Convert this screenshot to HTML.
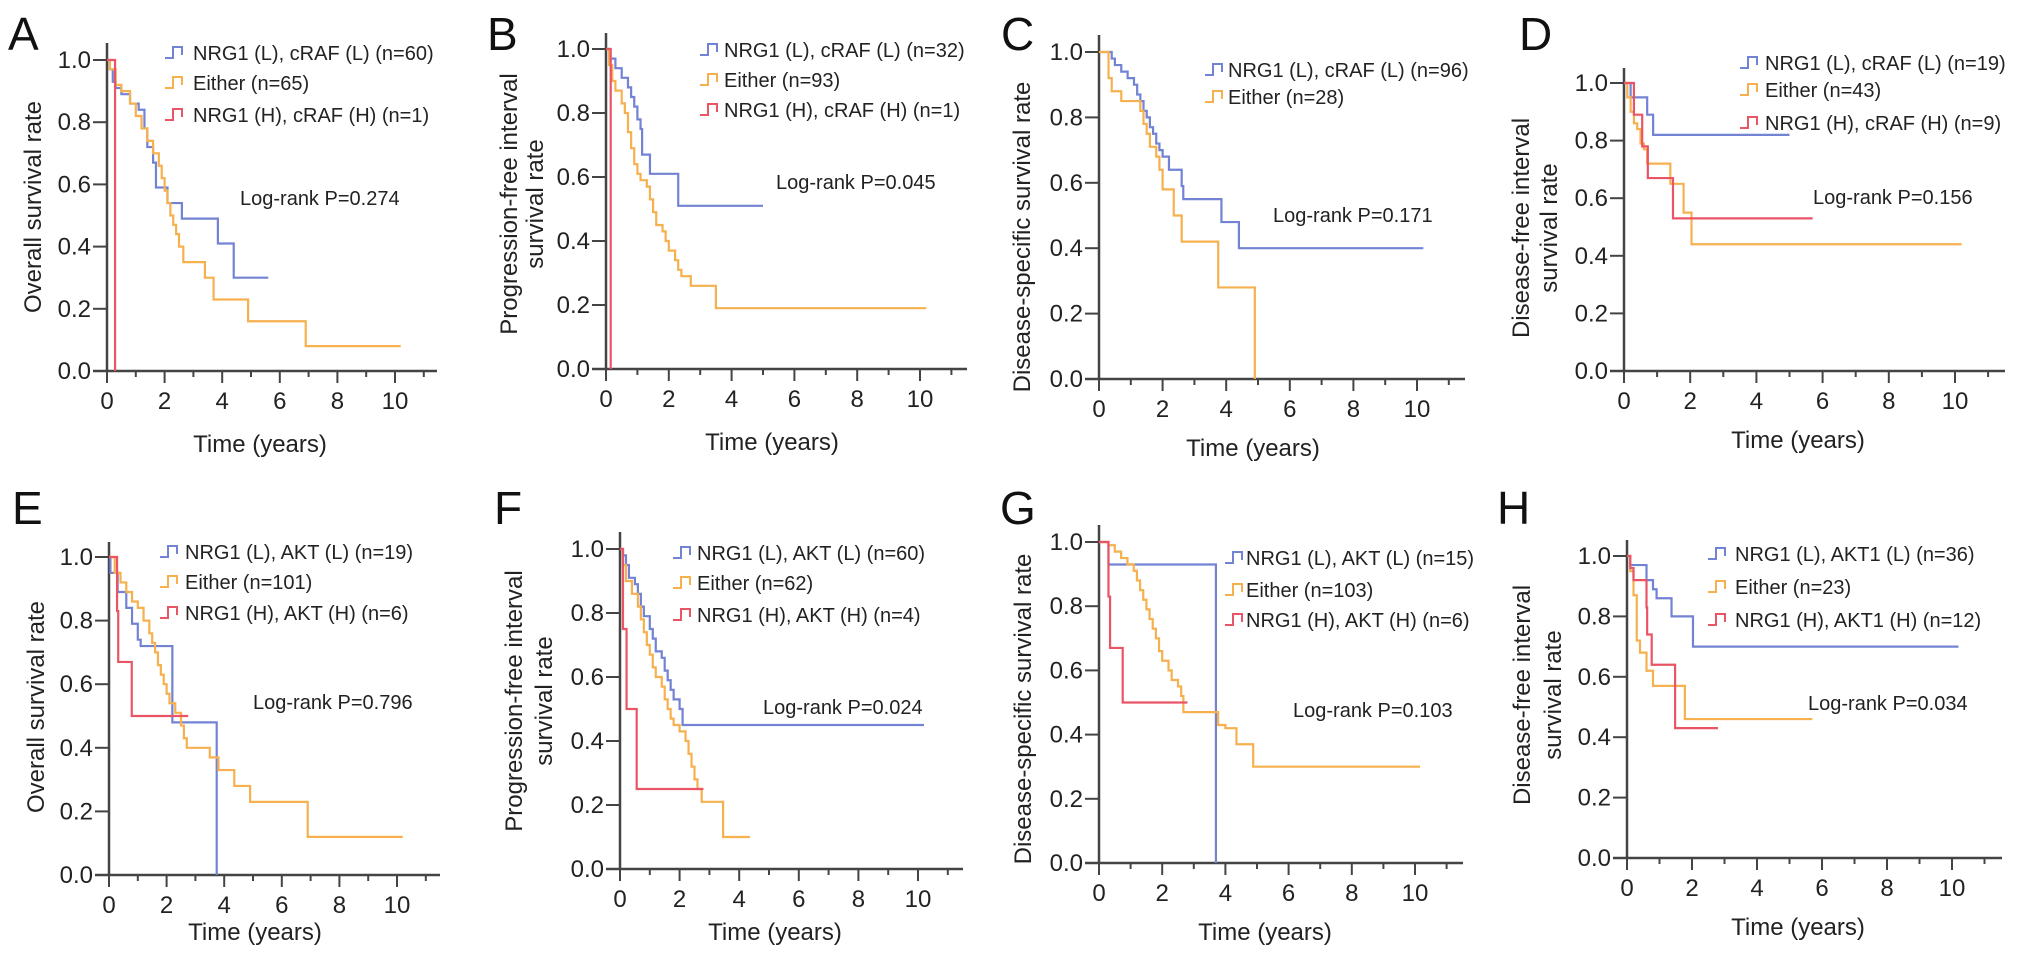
<!DOCTYPE html>
<html><head><meta charset="utf-8"><style>
html,body{margin:0;padding:0;background:#fff;}
svg{display:block;font-family:"Liberation Sans",Arial,sans-serif;}
</style></head><body>
<svg id="fig" width="2032" height="960" viewBox="0 0 2032 960"></svg>
<script>
// ---------- Data (time in years, survival fraction after each drop) ----------
const A_blue_t=[0.1,0.2,0.3,0.5,0.8,1.1,1.3,1.4,1.6,1.7,2.1,2.6,3.85,4.4]; const A_blue_s=[0.97,0.93,0.91,0.89,0.86,0.84,0.78,0.72,0.67,0.59,0.54,0.49,0.41,0.30]; const A_blue_end=5.6;
const A_or_t=[0.1,0.3,0.5,0.8,1.0,1.2,1.4,1.6,1.8,1.9,2.0,2.1,2.2,2.3,2.4,2.5,2.65,3.4,3.7,4.9,6.9]; const A_or_s=[0.97,0.92,0.90,0.86,0.82,0.78,0.74,0.70,0.66,0.62,0.58,0.54,0.50,0.47,0.44,0.40,0.35,0.30,0.23,0.16,0.08]; const A_or_end=10.2;
const A_red_t=[0.28]; const A_red_s=[0]; const A_red_end=0.28;

const B_blue_t=[0.1,0.3,0.5,0.7,0.8,0.9,1.0,1.1,1.15,1.4,2.3]; const B_blue_s=[0.97,0.94,0.91,0.88,0.85,0.82,0.78,0.75,0.67,0.61,0.51]; const B_blue_end=5.0;
const B_or_t=[0.1,0.2,0.3,0.5,0.6,0.7,0.8,0.9,1.0,1.1,1.3,1.4,1.5,1.6,1.8,1.9,2.0,2.2,2.3,2.4,2.7,3.5]; const B_or_s=[0.95,0.90,0.87,0.83,0.80,0.74,0.69,0.64,0.61,0.59,0.57,0.53,0.49,0.45,0.43,0.40,0.37,0.34,0.31,0.29,0.26,0.19]; const B_or_end=10.2;
const B_red_t=[0.15]; const B_red_s=[0]; const B_red_end=0.15;

const C_blue_t=[0.4,0.5,0.7,0.9,1.1,1.2,1.3,1.4,1.5,1.6,1.7,1.8,1.9,2.0,2.2,2.6,2.65,3.85,4.4]; const C_blue_s=[0.98,0.96,0.94,0.92,0.90,0.87,0.85,0.82,0.80,0.77,0.75,0.72,0.70,0.68,0.64,0.59,0.55,0.48,0.40]; const C_blue_end=10.2;
const C_or_t=[0.3,0.4,0.7,1.3,1.4,1.5,1.6,1.8,1.9,2.0,2.35,2.6,3.75,4.9]; const C_or_s=[0.92,0.88,0.85,0.82,0.78,0.75,0.71,0.68,0.64,0.58,0.50,0.42,0.28,0]; const C_or_end=4.9;

const D_blue_t=[0.2,0.7,0.88]; const D_blue_s=[0.95,0.89,0.82]; const D_blue_end=5.0;
const D_or_t=[0.1,0.2,0.3,0.4,0.5,0.6,0.7,1.4,1.8,2.04]; const D_or_s=[0.95,0.90,0.86,0.84,0.79,0.77,0.72,0.65,0.55,0.44]; const D_or_end=10.2;
const D_red_t=[0.3,0.55,0.72,1.48]; const D_red_s=[0.89,0.78,0.67,0.53]; const D_red_end=5.7;

const E_blue_t=[0.05,0.3,0.6,0.8,1.0,1.1,2.2,3.74]; const E_blue_s=[0.95,0.89,0.84,0.79,0.74,0.72,0.48,0]; const E_blue_end=3.74;
const E_or_t=[0.2,0.4,0.6,0.8,1.0,1.2,1.4,1.5,1.6,1.7,1.8,1.9,2.0,2.1,2.3,2.5,2.6,2.7,3.5,3.8,4.35,4.9,6.9]; const E_or_s=[0.95,0.92,0.89,0.86,0.84,0.80,0.76,0.73,0.70,0.66,0.63,0.60,0.57,0.54,0.51,0.47,0.43,0.40,0.37,0.33,0.28,0.23,0.12]; const E_or_end=10.2;
const E_red_t=[0.28,0.32,0.79]; const E_red_s=[0.83,0.67,0.50]; const E_red_end=2.75;

const F_blue_t=[0.1,0.2,0.3,0.5,0.6,0.7,0.8,1.0,1.1,1.2,1.4,1.5,1.6,1.7,1.8,2.0,2.1]; const F_blue_s=[0.98,0.95,0.91,0.89,0.86,0.82,0.79,0.75,0.72,0.68,0.66,0.62,0.59,0.56,0.53,0.50,0.45]; const F_blue_end=10.2;
const F_or_t=[0.1,0.2,0.4,0.6,0.7,0.8,0.9,1.0,1.1,1.2,1.4,1.5,1.6,1.7,1.8,2.0,2.2,2.3,2.4,2.5,2.6,2.74,3.46]; const F_or_s=[0.95,0.90,0.86,0.82,0.78,0.74,0.70,0.67,0.63,0.60,0.57,0.53,0.50,0.47,0.45,0.43,0.40,0.36,0.32,0.28,0.25,0.21,0.10]; const F_or_end=4.36;
const F_red_t=[0.1,0.22,0.56]; const F_red_s=[0.75,0.50,0.25]; const F_red_end=2.8;

const G_blue_t=[0.3,3.7]; const G_blue_s=[0.93,0]; const G_blue_end=3.7;
const G_or_t=[0.3,0.5,0.7,0.9,1.1,1.2,1.3,1.4,1.5,1.6,1.7,1.8,1.9,2.0,2.2,2.3,2.5,2.6,2.67,3.77,4.0,4.35,4.88]; const G_or_s=[0.99,0.97,0.95,0.93,0.91,0.88,0.85,0.82,0.79,0.76,0.73,0.70,0.66,0.63,0.60,0.57,0.55,0.52,0.47,0.43,0.42,0.37,0.30]; const G_or_end=10.16;
const G_red_t=[0.3,0.35,0.75]; const G_red_s=[0.83,0.67,0.50]; const G_red_end=2.8;

const H_blue_t=[0.1,0.6,0.8,0.91,1.37,2.03]; const H_blue_s=[0.97,0.92,0.89,0.86,0.80,0.70]; const H_blue_end=10.2;
const H_or_t=[0.1,0.2,0.3,0.4,0.6,0.8,1.78]; const H_or_s=[0.95,0.87,0.72,0.68,0.62,0.57,0.46]; const H_or_end=5.7;
const H_red_t=[0.1,0.2,0.6,0.62,0.76,1.48]; const H_red_s=[0.96,0.92,0.83,0.74,0.64,0.43]; const H_red_end=2.8;

const yTickLabels=["0.0","0.2","0.4","0.6","0.8","1.0"];
const xTickLabels=["0","2","4","6","8","10"];

const BLUE="#7383d4", ORANGE="#f6b14e", RED="#ea5566";
const NS="http://www.w3.org/2000/svg";
const svg=document.getElementById('fig');
function mk(tag,attrs,parent,text){const e=document.createElementNS(NS,tag);for(const k in attrs)e.setAttribute(k,attrs[k]);if(text!==undefined)e.textContent=text;(parent||svg).appendChild(e);return e;}

const panels=[
 {id:'a',L:'A',lx:8,ly:50,ox:107,y0:371,y1:60,x10:395,xend:437,ytop:43,
  yt:["Overall survival rate"],ytx:[33],yty:207,xty:452,xtx:260,
  leg:{ix:165,tx:193,ys:[53,83,115]},labels:["NRG1 (L), cRAF (L) (n=60)","Either (n=65)","NRG1 (H), cRAF (H) (n=1)"],
  pv:{x:240,y:205,t:"Log-rank P=0.274"},
  series:[[A_blue_t,A_blue_s,A_blue_end,BLUE],[A_or_t,A_or_s,A_or_end,ORANGE],[A_red_t,A_red_s,A_red_end,RED]]},
 {id:'b',L:'B',lx:487,ly:50,ox:606,y0:369,y1:49,x10:920,xend:967,ytop:33,
  yt:["Progression-free interval","survival rate"],ytx:[509,535],yty:204,xty:450,xtx:772,
  leg:{ix:700,tx:724,ys:[50,80,110]},labels:["NRG1 (L), cRAF (L) (n=32)","Either (n=93)","NRG1 (H), cRAF (H) (n=1)"],
  pv:{x:776,y:189,t:"Log-rank P=0.045"},
  series:[[B_blue_t,B_blue_s,B_blue_end,BLUE],[B_or_t,B_or_s,B_or_end,ORANGE],[B_red_t,B_red_s,B_red_end,RED]]},
 {id:'c',L:'C',lx:1001,ly:50,ox:1099,y0:379,y1:52,x10:1417,xend:1465,ytop:35,
  yt:["Disease-specific survival rate"],ytx:[1022],yty:237,xty:456,xtx:1253,
  leg:{ix:1205,tx:1228,ys:[70,97]},labels:["NRG1 (L), cRAF (L) (n=96)","Either (n=28)"],
  pv:{x:1273,y:222,t:"Log-rank P=0.171"},
  series:[[C_blue_t,C_blue_s,C_blue_end,BLUE],[C_or_t,C_or_s,C_or_end,ORANGE]]},
 {id:'d',L:'D',lx:1519,ly:50,ox:1624,y0:371,y1:83,x10:1955,xend:2005,ytop:68,
  yt:["Disease-free interval","survival rate"],ytx:[1521,1549],yty:228,xty:448,xtx:1798,
  leg:{ix:1740,tx:1765,ys:[63,90,123]},labels:["NRG1 (L), cRAF (L) (n=19)","Either (n=43)","NRG1 (H), cRAF (H) (n=9)"],
  pv:{x:1813,y:204,t:"Log-rank P=0.156"},
  series:[[D_blue_t,D_blue_s,D_blue_end,BLUE],[D_or_t,D_or_s,D_or_end,ORANGE],[D_red_t,D_red_s,D_red_end,RED]]},
 {id:'e',L:'E',lx:12,ly:524,ox:109,y0:875,y1:557,x10:397,xend:440,ytop:542,
  yt:["Overall survival rate"],ytx:[36],yty:707,xty:940,xtx:255,
  leg:{ix:160,tx:185,ys:[552,582,613]},labels:["NRG1 (L), AKT (L) (n=19)","Either (n=101)","NRG1 (H), AKT (H) (n=6)"],
  pv:{x:253,y:709,t:"Log-rank P=0.796"},
  series:[[E_blue_t,E_blue_s,E_blue_end,BLUE],[E_or_t,E_or_s,E_or_end,ORANGE],[E_red_t,E_red_s,E_red_end,RED]]},
 {id:'f',L:'F',lx:494,ly:524,ox:620,y0:869,y1:549,x10:918,xend:963,ytop:532,
  yt:["Progression-free interval","survival rate"],ytx:[514,544],yty:701,xty:940,xtx:775,
  leg:{ix:673,tx:697,ys:[553,583,615]},labels:["NRG1 (L), AKT (L) (n=60)","Either (n=62)","NRG1 (H), AKT (H) (n=4)"],
  pv:{x:763,y:714,t:"Log-rank P=0.024"},
  series:[[F_blue_t,F_blue_s,F_blue_end,BLUE],[F_or_t,F_or_s,F_or_end,ORANGE],[F_red_t,F_red_s,F_red_end,RED]]},
 {id:'g',L:'G',lx:1000,ly:524,ox:1099,y0:863,y1:542,x10:1415,xend:1463,ytop:525,
  yt:["Disease-specific survival rate"],ytx:[1023],yty:709,xty:940,xtx:1265,
  leg:{ix:1225,tx:1246,ys:[558,590,620]},labels:["NRG1 (L), AKT (L) (n=15)","Either (n=103)","NRG1 (H), AKT (H) (n=6)"],
  pv:{x:1293,y:717,t:"Log-rank P=0.103"},
  series:[[G_blue_t,G_blue_s,G_blue_end,BLUE],[G_or_t,G_or_s,G_or_end,ORANGE],[G_red_t,G_red_s,G_red_end,RED]]},
 {id:'h',L:'H',lx:1497,ly:524,ox:1627,y0:858,y1:556,x10:1952,xend:2002,ytop:540,
  yt:["Disease-free interval","survival rate"],ytx:[1522,1553],yty:695,xty:935,xtx:1798,
  leg:{ix:1708,tx:1735,ys:[554,587,620]},labels:["NRG1 (L), AKT1 (L) (n=36)","Either (n=23)","NRG1 (H), AKT1 (H) (n=12)"],
  pv:{x:1808,y:710,t:"Log-rank P=0.034"},
  series:[[H_blue_t,H_blue_s,H_blue_end,BLUE],[H_or_t,H_or_s,H_or_end,ORANGE],[H_red_t,H_red_s,H_red_end,RED]]}
];
const seriesNames=['low-low','either','high-high'];

panels.forEach(p=>{
  const g=mk('g',{});
  
  
  const xs=t=>p.ox+(p.x10-p.ox)*t/10;
  const ys=v=>p.y0-(p.y0-p.y1)*v;
  const letter=mk('text',{x:p.lx,y:p.ly,'font-size':46,fill:'#111'},g,p.L);
  
  
  // axes
  const ax=mk('path',{d:`M${p.ox},${p.ytop}V${p.y0}M${p.ox-14},${p.y0}H${p.xend}`,stroke:'#444','stroke-width':2.5,fill:'none'},g);
  
  
  // y ticks
  yTickLabels.forEach((lab,i)=>{
    const v=i*0.2,y=ys(v);
    mk('line',{x1:p.ox-14,x2:p.ox,y1:y,y2:y,stroke:'#444','stroke-width':2},g);
    const t=mk('text',{x:p.ox-16,y:y+8,'font-size':24,'text-anchor':'end',fill:'#222'},g,lab);
    
    
  });
  // x ticks
  for(let k=0;k<=11;k++){
    const x=xs(k);
    mk('line',{x1:x,x2:x,y1:p.y0,y2:p.y0+(k%2===0?12:6),stroke:'#444','stroke-width':2},g);
  }
  xTickLabels.forEach((lab,i)=>{
    const t=mk('text',{x:xs(i*2),y:p.y0+38,'font-size':24,'text-anchor':'middle',fill:'#222'},g,lab);
    
    
  });
  const xt=mk('text',{x:p.xtx,y:p.xty,'font-size':24,'text-anchor':'middle',fill:'#222'},g,'Time (years)');
  
  
  p.yt.forEach((s,i)=>{
    const t=mk('text',{x:p.ytx[i],y:p.yty,'font-size':24,'text-anchor':'middle',fill:'#222',transform:`rotate(-90 ${p.ytx[i]} ${p.yty})`,dy:8},g,s);
    
    
  });
  // curves
  p.series.forEach((s,si)=>{
    const [T,S,end,col]=s;
    let d=`M${xs(0)},${ys(1)}`,prev=1;
    T.forEach((t,i)=>{d+=`H${xs(t)}V${ys(S[i])}`;prev=S[i];});
    d+=`H${xs(end)}`;
    const c=mk('path',{d:d,stroke:col,'stroke-width':2.2,fill:'none'},g);
    
    
  });
  // legend
  p.labels.forEach((lab,i)=>{
    const y=p.leg.ys[i],x=p.leg.ix,col=p.series[i][3];
    const ic=mk('path',{d:`M${x},${y+5}H${x+8}V${y-6}H${x+17}V${y+2}`,stroke:col,'stroke-width':2,fill:'none'},g);
    
    
    const t=mk('text',{x:p.leg.tx,y:y+7,'font-size':20,fill:'#222'},g,lab);
    
    
  });
  const pv=mk('text',{x:p.pv.x,y:p.pv.y,'font-size':20,fill:'#222'},g,p.pv.t);
  
  
});
</script>
</body></html>
